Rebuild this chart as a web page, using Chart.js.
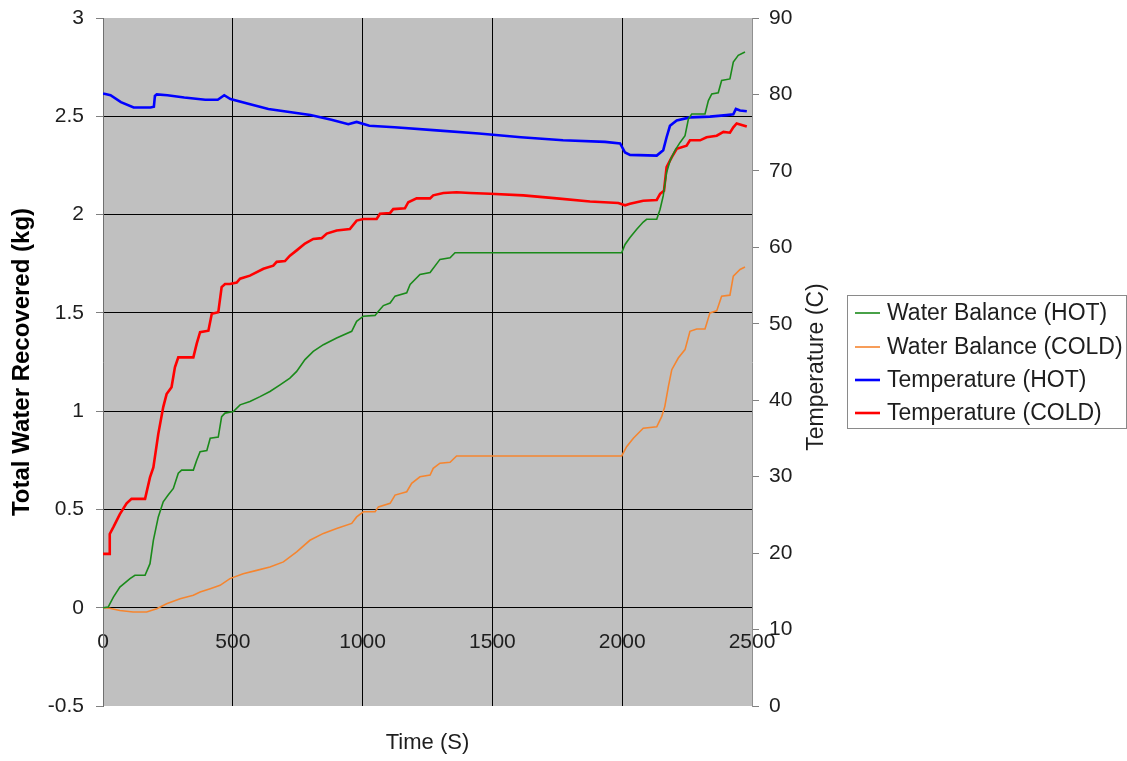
<!DOCTYPE html>
<html><head><meta charset="utf-8">
<script src="https://cdn.jsdelivr.net/npm/chart.js@4"></script>
<style>html,body{margin:0;padding:0;background:#fff;} #wrap{width:1127px;height:761px;position:relative;}</style>
</head><body><div id="wrap"><canvas id="c"></canvas></div>
<script>
// ---- data ----
const seriesLabels = ['Water Balance (HOT)', 'Water Balance (COLD)', 'Temperature (HOT)', 'Temperature (COLD)'];

const hotWaterTime = [0,20,40,65,104,123,162,181,194,213,232,251,271,290,303,348,361,374,400,413,444,457,470,502,528,566,605,643,682,720,746,778,810,849,900,958,977,1003,1048,1061,1080,1106,1125,1170,1183,1221,1260,1298,1337,1356,1998,2011,2030,2056,2081,2094,2133,2146,2158,2171,2184,2203,2223,2242,2255,2268,2319,2332,2345,2370,2383,2415,2428,2447,2473];
const hotWaterKg = [0,0.003,0.054,0.105,0.148,0.165,0.165,0.224,0.343,0.462,0.539,0.573,0.607,0.684,0.70,0.70,0.75,0.794,0.80,0.862,0.868,0.972,0.99,0.998,1.032,1.049,1.074,1.10,1.134,1.168,1.202,1.262,1.304,1.338,1.372,1.406,1.457,1.483,1.487,1.508,1.537,1.55,1.585,1.602,1.644,1.695,1.705,1.772,1.78,1.806,1.806,1.848,1.883,1.925,1.962,1.976,1.976,2.027,2.095,2.214,2.273,2.325,2.367,2.401,2.486,2.512,2.512,2.58,2.614,2.62,2.682,2.69,2.776,2.81,2.827];

const coldWaterTime = [0,25,65,116,168,207,245,297,348,374,413,451,489,540,592,643,695,746,797,849,900,958,977,1003,1048,1061,1106,1125,1170,1189,1221,1260,1272,1298,1337,1362,1998,2017,2043,2081,2133,2152,2164,2178,2191,2216,2242,2261,2287,2319,2338,2364,2383,2415,2428,2454,2473];
const coldWaterKg = [0,-0.003,-0.014,-0.022,-0.022,-0.005,0.02,0.046,0.063,0.08,0.097,0.114,0.148,0.173,0.19,0.207,0.233,0.284,0.343,0.378,0.403,0.429,0.462,0.488,0.488,0.513,0.531,0.573,0.59,0.633,0.666,0.675,0.709,0.735,0.74,0.772,0.772,0.819,0.862,0.913,0.92,0.972,1.023,1.126,1.211,1.27,1.313,1.406,1.418,1.418,1.5,1.51,1.585,1.59,1.687,1.721,1.733];

const hotTempTime = [0,5,29,69,118,183,196,200,207,248,313,394,442,467,491,556,637,718,799,880,945,977,1026,1123,1285,1448,1610,1772,1934,1992,2011,2030,2133,2158,2171,2184,2210,2261,2338,2402,2428,2438,2454,2480];
const hotTempC = [80.1,80.1,79.9,79.0,78.3,78.3,78.4,79.8,80.0,79.9,79.6,79.3,79.3,79.9,79.4,78.8,78.1,77.7,77.3,76.7,76.1,76.4,75.9,75.7,75.3,74.9,74.4,74.0,73.8,73.6,72.4,72.1,72.0,72.7,74.4,75.9,76.6,77.0,77.1,77.3,77.4,78.1,77.9,77.8];

const coldTempTime = [0,24,26,40,65,91,110,162,181,194,213,232,245,264,277,290,348,361,374,406,419,444,457,470,489,515,528,566,618,656,669,701,720,746,778,810,842,862,900,951,977,1003,1054,1067,1106,1118,1163,1176,1208,1260,1272,1311,1362,1414,1491,1619,1748,1876,1985,2011,2030,2081,2133,2146,2161,2171,2191,2210,2248,2261,2300,2325,2364,2390,2415,2428,2441,2480];
const coldTempC = [19.9,19.9,22.5,23.4,25.1,26.5,27.1,27.1,29.9,31.2,35.6,39.1,40.8,41.7,44.3,45.6,45.6,47.4,48.9,49.1,51.3,51.5,54.8,55.2,55.2,55.4,55.9,56.3,57.2,57.6,58.1,58.2,58.9,59.6,60.5,61.1,61.2,61.8,62.2,62.4,63.5,63.7,63.7,64.4,64.5,65.0,65.1,65.9,66.4,66.4,66.8,67.1,67.2,67.1,67.0,66.8,66.4,66.0,65.8,65.5,65.7,66.1,66.2,67.0,67.4,70.5,71.8,72.9,73.3,74.0,74.0,74.4,74.6,75.1,75.0,75.7,76.2,75.8];

const seriesColors = ['#1a8a1a', '#f5852f', '#0000ff', '#ff0000'];

// ---- helpers ----
const pts = (xs, ys) => xs.map((x, i) => ({x: x, y: ys[i]}));
const FONT = "'Liberation Sans', Arial, sans-serif";
const TXT = '#1e1e1e';

const bgPlugin = {
  id: 'plotBg',
  beforeDraw(chart) {
    const a = chart.chartArea, ctx = chart.ctx;
    ctx.save(); ctx.fillStyle = '#c0c0c0';
    ctx.fillRect(a.left, a.top, a.right - a.left, a.bottom - a.top);
    ctx.restore();
  }
};

const extrasPlugin = {
  id: 'extras',
  afterDraw(chart) {
    const ctx = chart.ctx;
    ctx.save();
    // right axis title (reads bottom-to-top)
    ctx.translate(817, 367);
    ctx.rotate(-Math.PI / 2);
    ctx.fillStyle = TXT; ctx.font = "23px " + FONT;
    ctx.textAlign = 'center'; ctx.textBaseline = 'middle';
    ctx.fillText('Temperature (C)', 0, 0);
    ctx.restore();
    // legend
    ctx.save();
    ctx.strokeStyle = '#8a8a8a'; ctx.lineWidth = 1;
    ctx.strokeRect(847.5, 295.5, 279, 133);
    const rows = [313, 347, 380, 413];
    chart.data.datasets.forEach((ds, i) => {
      ctx.beginPath();
      ctx.strokeStyle = ds.borderColor; ctx.lineWidth = ds.borderWidth;
      ctx.moveTo(855, rows[i]); ctx.lineTo(880, rows[i]); ctx.stroke();
      ctx.fillStyle = TXT; ctx.font = "23px " + FONT;
      ctx.textAlign = 'left'; ctx.textBaseline = 'middle';
      ctx.fillText(ds.label, 887, rows[i] + 1);
    });
    ctx.restore();
  }
};

new Chart(document.getElementById('c'), {
  type: 'line',
  data: {
    datasets: [
      {label: seriesLabels[0], data: pts(hotWaterTime, hotWaterKg), borderColor: seriesColors[0], borderWidth: 1.6, yAxisID: 'y'},
      {label: seriesLabels[1], data: pts(coldWaterTime, coldWaterKg), borderColor: seriesColors[1], borderWidth: 1.6, yAxisID: 'y'},
      {label: seriesLabels[2], data: pts(hotTempTime, hotTempC), borderColor: seriesColors[2], borderWidth: 2.6, yAxisID: 'y1'},
      {label: seriesLabels[3], data: pts(coldTempTime, coldTempC), borderColor: seriesColors[3], borderWidth: 2.6, yAxisID: 'y1'}
    ]
  },
  options: {
    responsive: true, maintainAspectRatio: false, animation: false,
    layout: {padding: {top: 18, left: 0, right: 0, bottom: 0}},
    elements: {point: {radius: 0}, line: {tension: 0}},
    plugins: {
      legend: {display: false},
      tooltip: {enabled: false},
      title: {display: true, text: 'Time (S)', position: 'bottom', fullSize: false,
        color: TXT, font: {family: FONT, size: 22, weight: 'normal'}, padding: {top: 24, bottom: 4.6}}
    },
    scales: {
      x: {
        type: 'linear', min: 0, max: 2500, position: {y: 0},
        ticks: {stepSize: 500, color: TXT, font: {family: FONT, size: 21}, padding: 22, maxRotation: 0,
          callback: v => String(v)},
        grid: {color: c => (c.tick && (c.tick.value === 0 || c.tick.value === 2500)) ? 'rgba(0,0,0,0)' : '#000', lineWidth: 1, drawTicks: false},
        border: {display: false}
      },
      y: {
        type: 'linear', position: 'left', min: -0.5, max: 3,
        ticks: {stepSize: 0.5, color: TXT, font: {family: FONT, size: 21}, padding: 12, callback: v => String(v)},
        grid: {color: c => (c.tick && (c.tick.value === 3 || c.tick.value === -0.5)) ? 'rgba(0,0,0,0)' : '#000', lineWidth: 1, tickLength: 7, tickColor: '#808080'},
        border: {display: true, color: '#707070'},
        title: {display: true, text: 'Total Water Recovered (kg)', color: '#000', font: {family: FONT, size: 24, weight: 'bold'}, padding: {top: 8, bottom: 0}},
        afterFit(s) { s.width = 103; s.paddingTop = 0; s.paddingBottom = 0; }
      },
      y1: {
        type: 'linear', position: 'right', min: 0, max: 90,
        ticks: {stepSize: 10, color: TXT, font: {family: FONT, size: 21}, padding: 10, callback: v => String(v)},
        grid: {drawOnChartArea: false, tickLength: 7, tickColor: '#808080'},
        border: {display: true, color: '#909090'},
        afterFit(s) { s.width = 375; s.paddingTop = 0; s.paddingBottom = 0; }
      }
    }
  },
  plugins: [bgPlugin, extrasPlugin]
});
</script></body></html>
